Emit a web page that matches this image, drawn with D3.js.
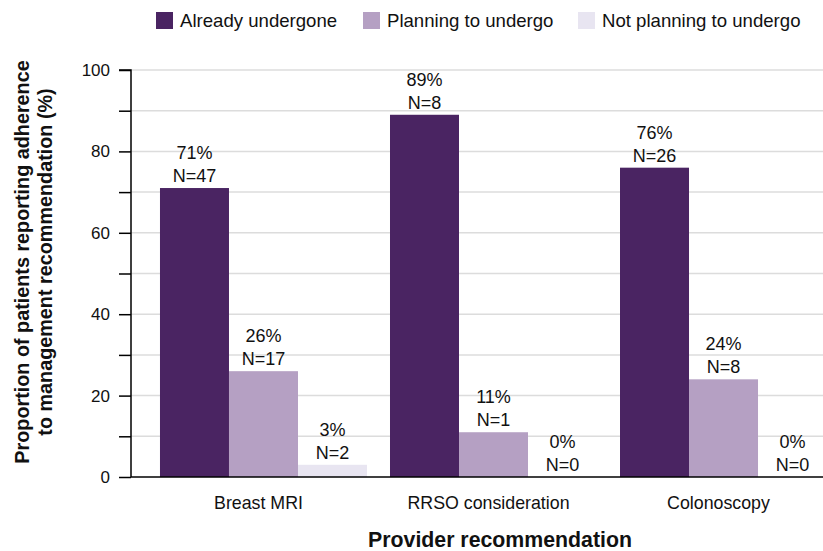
<!DOCTYPE html>
<html><head><meta charset="utf-8">
<script src="https://cdn.jsdelivr.net/npm/d3@7/dist/d3.min.js"></script>
<style>body{margin:0;background:#fff}svg{display:block;font-family:"Liberation Sans",Arial,sans-serif}</style>
</head><body><svg id="c" width="823" height="551"></svg>
<script>
const categories = ["Breast MRI", "RRSO consideration", "Colonoscopy"];
const seriesNames = ["Already undergone", "Planning to undergo", "Not planning to undergo"];
const alreadyPct = [71, 89, 76];
const planningPct = [26, 11, 24];
const notPlanningPct = [3, 0, 0];
const alreadyN = [47, 8, 26];
const planningN = [17, 1, 8];
const notPlanningN = [2, 0, 0];
const yTicks = [0, 10, 20, 30, 40, 50, 60, 70, 80, 90, 100];
const colors = ["#4a2462", "#b5a0c3", "#e8e5f1"];

const pcts = [alreadyPct, planningPct, notPlanningPct];
const ns = [alreadyN, planningN, notPlanningN];
const data = [];
categories.forEach((c, i) => seriesNames.forEach((s, j) => data.push({cat: c, ser: s, v: pcts[j][i], n: ns[j][i], j})));

const svg = d3.select("#c");
const pLeft = 131, pTop = 70, pBottom = 477;
const y = d3.scaleLinear().domain([0, 100]).range([pBottom, pTop]);
const x0 = d3.scaleBand().domain(categories).range([131, 856]).paddingInner(0.1).paddingOuter(0.126);
const x1 = d3.scaleBand().domain(seriesNames).range([0, x0.bandwidth()]);

// gridlines
svg.append("g").selectAll("line").data(yTicks.filter(d => d > 0)).join("line")
  .attr("x1", pLeft).attr("x2", 823).attr("y1", d => y(d)).attr("y2", d => y(d))
  .attr("stroke", "#dcdcdc").attr("stroke-width", 1.5);

// bars
svg.append("g").selectAll("rect").data(data).join("rect")
  .attr("x", d => x0(d.cat) + x1(d.ser)).attr("width", x1.bandwidth())
  .attr("y", d => y(d.v)).attr("height", d => y(0) - y(d.v))
  .attr("fill", d => colors[d.j]);

// value labels
const lab = svg.append("g").attr("font-size", 18).attr("fill", "#111").attr("text-anchor", "middle");
data.forEach(d => {
  const cx = x0(d.cat) + x1(d.ser) + x1.bandwidth() / 2;
  lab.append("text").attr("x", cx).attr("y", y(d.v) - 6).text("N=" + d.n);
  lab.append("text").attr("x", cx).attr("y", y(d.v) - 29).text(d.v + "%");
});

// y axis
const ya = d3.axisLeft(y).tickValues(yTicks).tickSize(12).tickFormat(d => d % 20 === 0 ? d : "");
const yg = svg.append("g").attr("transform", `translate(${pLeft},0)`).call(ya);
yg.select(".domain").attr("stroke", "#000").attr("stroke-width", 1.5).attr("d", `M-12,${pTop}H0V${pBottom}`);
yg.selectAll(".tick line").attr("stroke", "#000").attr("stroke-width", 1.5);
yg.selectAll(".tick text").attr("font-size", 17).attr("fill", "#111").attr("font-family", "Liberation Sans, Arial, sans-serif").attr("x", -21);

// x axis
const xa = d3.axisBottom(x0).tickSize(0).tickPadding(19);
const xg = svg.append("g").attr("transform", `translate(0,${pBottom})`).call(xa);
xg.select(".domain").attr("stroke", "#000").attr("stroke-width", 1.5).attr("d", `M${pLeft},0H823`);
xg.selectAll(".tick text").attr("font-size", 17.8).attr("fill", "#111").attr("font-family", "Liberation Sans, Arial, sans-serif").attr("dx", -5);

// axis titles
svg.append("text").attr("x", 500).attr("y", 547).attr("text-anchor", "middle")
  .attr("font-size", 21.3).attr("font-weight", "bold").attr("fill", "#111").text("Provider recommendation");
const yt = svg.append("text").attr("transform", `translate(0,262) rotate(-90)`).attr("text-anchor", "middle")
  .attr("font-size", 19.8).attr("font-weight", "bold").attr("fill", "#111");
yt.append("tspan").attr("x", 0).attr("y", 29).text("Proportion of patients reporting adherence");
yt.append("tspan").attr("x", 0).attr("y", 52).text("to management recommendation (%)");

// legend
const legX = [156, 363, 578];
const lg = svg.append("g");
seriesNames.forEach((s, j) => {
  lg.append("rect").attr("x", legX[j]).attr("y", 12).attr("width", 17).attr("height", 17).attr("fill", colors[j]);
  lg.append("text").attr("x", legX[j] + 24).attr("y", 27).attr("font-size", 18.6).attr("fill", "#111").text(s);
});
</script></body></html>
